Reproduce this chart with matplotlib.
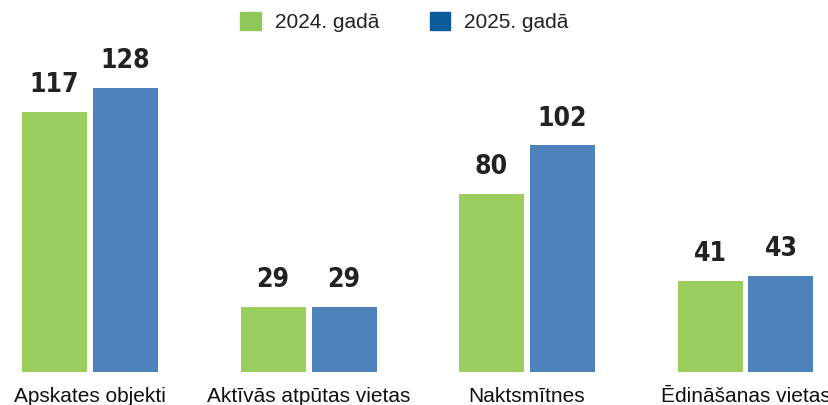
import matplotlib.pyplot as plt
from matplotlib.patches import Patch
import numpy as np

categories = ["Apskates objekti", "Aktīvās atpūtas vietas", "Naktsmītnes", "Ēdināšanas vietas"]
values_2024 = [117, 29, 80, 41]
values_2025 = [128, 29, 102, 43]
series_names = ["2024. gadā", "2025. gadā"]

green = "#9BCD5F"
blue = "#4D82BA"
green_leg = "#8FC758"
blue_leg = "#0B5C9B"

fig = plt.figure(figsize=(8.29, 4.05), dpi=100)
base_px = 371.5
ax = fig.add_axes([0, (405 - base_px) / 405, 1, base_px / 405])

x = np.arange(len(categories))
w = 65 / 218.5
off = 35.5 / 218.5
b1 = ax.bar(x - off, values_2024, w, color=green)
b2 = ax.bar(x + off, values_2025, w, color=blue)

for bars, vals in [(b1, values_2024), (b2, values_2025)]:
    for r, v in zip(bars, vals):
        ax.annotate(str(v), (r.get_x() + r.get_width() / 2, r.get_height()),
                    xytext=(0, 10), textcoords="offset points",
                    ha="center", va="bottom", fontsize=19, fontweight="bold",
                    family="DejaVu Sans", fontstretch="condensed", color="#222222")

ax.set_xlim(-90 / 218.5, (829 - 90) / 218.5)
ax.set_ylim(0, base_px / 2.216)
ax.set_xticks(x)
ax.set_xticklabels(categories, fontsize=15, family="Liberation Sans", color="#111111")
ax.tick_params(axis="x", length=0, pad=11.5)
ax.set_yticks([])
for s in ax.spines.values():
    s.set_visible(False)

handles = [Patch(color=green_leg), Patch(color=blue_leg)]
fig.legend(handles, series_names, loc="center", bbox_to_anchor=(0.488, 0.946),
           ncol=2, frameon=False, prop={"family": "Liberation Sans", "size": 15},
           handlelength=1.0, handleheight=1.0, handletextpad=0.67, columnspacing=2.4,
           labelcolor="#222222")

fig.savefig("out.png", dpi=100)
